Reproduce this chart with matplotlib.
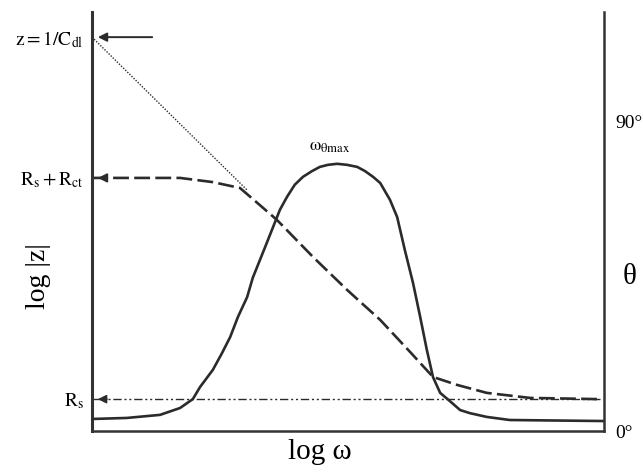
import matplotlib
matplotlib.use("Agg")
import matplotlib.pyplot as plt

plt.rcParams['font.family'] = ['Liberation Serif', 'DejaVu Serif']
plt.rcParams['mathtext.fontset'] = 'stix'

# impedance magnitude (dashed) - log w vs log|z|, arbitrary units 0..100
log_w_mag = [0, 11.3, 17.2, 23.6, 28.9, 32.8, 36.1, 43.2, 49.8, 56.3, 62.1, 66.6, 71.3, 77.1, 85.5, 99.2]
log_z_mag = [60.4, 60.4, 60.4, 59.4, 58.0, 53.9, 50.4, 41.5, 33.7, 26.5, 18.9, 12.9, 11.0, 9.1, 7.9, 7.6]

# phase angle (solid) - degrees on right axis
log_w_phase = [0, 6.8, 13.3, 17.2, 19.7, 21.1, 23.6, 25.4, 27.0, 28.5, 30.3, 31.4, 32.8, 34.2,
               36.7, 38.1, 39.6, 41.2, 43.0, 44.5, 46.1, 47.9, 49.8, 51.8, 53.3, 54.9, 56.3,
               58.2, 59.6, 61.1, 62.7, 64.1, 65.4, 66.6, 68.0, 69.9, 71.9, 73.8, 77.1, 81.6, 100]
theta_deg = [3.5, 3.8, 4.7, 6.7, 9.3, 12.8, 17.8, 22.7, 27.4, 33.2, 39.0, 44.6, 49.8, 55.0,
             64.4, 68.2, 71.7, 74.0, 75.7, 76.9, 77.5, 77.8, 77.5, 76.9, 75.7, 74.0, 72.2,
             67.3, 62.3, 52.7, 43.1, 33.2, 23.6, 15.7, 11.1, 8.7, 6.1, 5.2, 4.1, 3.2, 2.9]

# capacitive asymptote (dotted)
asym_w = [0, 30.3]
asym_z = [94.0, 57.5]

# levels on the log|z| axis
level_vals = [7.6, 60.4, 94.0]
level_labels = [r'$\mathrm{R_s}$', r'$\mathrm{R_s + R_{ct}}$', r'$\mathrm{z = 1/C_{dl}}$']
rs = 7.6
peak_w = 47.9

ink = '#2b2b2b'

fig = plt.figure(figsize=(6.43, 4.70), dpi=100)
ax = fig.add_axes([92/643, 39/470, 512/643, 419/470])
ax2 = ax.twinx()

ax.set_xlim(0, 100)
ax.set_ylim(0, 100)
ax2.set_ylim(0, 122)

for s in ['top', 'right']:
    ax.spines[s].set_visible(False)
for s in ['top', 'left', 'bottom']:
    ax2.spines[s].set_visible(False)
ax.spines['left'].set_linewidth(2.2)
ax.spines['bottom'].set_linewidth(1.8)
ax2.spines['right'].set_linewidth(1.8)
for sp in [ax.spines['left'], ax.spines['bottom'], ax2.spines['right']]:
    sp.set_color('#333333')

ax.plot(asym_w, asym_z, color=ink, lw=1.0, linestyle=(0, (1, 1.1)))
ax.plot(log_w_mag, log_z_mag, color=ink, lw=1.9, dashes=(6, 2))
ax.plot([0, 99.2], [rs, rs], color=ink, lw=1.0, dashes=(6, 2, 1.5, 2, 1.5, 2))
ax2.plot(log_w_phase, theta_deg, color=ink, lw=1.9, solid_joinstyle='round')

# arrows pointing to the axis
arr = dict(arrowstyle='-|>', color=ink, lw=1.4, mutation_scale=13)
ax.annotate('', xy=(0.6, level_vals[2]), xytext=(12.3, level_vals[2]), arrowprops=arr)
ax.annotate('', xy=(0.6, level_vals[1]), xytext=(3.5, level_vals[1]), arrowprops=arr)
ax.annotate('', xy=(0.6, level_vals[0]), xytext=(3.5, level_vals[0]), arrowprops=dict(arr, lw=1.0))

ax.set_xticks([])
ax.set_yticks(level_vals)
ax.set_yticklabels(level_labels, fontsize=14)
ax.tick_params(axis='y', length=0, pad=6)

ax2.set_yticks([0, 90])
ax2.set_yticklabels(['0°', '90°'], fontsize=14)
ax2.tick_params(axis='y', length=0, pad=8)

ax.set_ylabel('log |z|', fontsize=20)
ax.yaxis.set_label_coords(-0.08, 0.37)

ax2.text(peak_w - 1.5, 80.5, r'$\mathrm{\omega_{\theta max}}$', fontsize=13,
         ha='center', va='bottom')

fig.text(320/643, 1 - 452/470, 'log ω', fontsize=21, ha='center', va='center')
fig.text(630/643, 1 - 277/470, 'θ', fontsize=21, ha='center', va='center')

fig.savefig('out.png', dpi=100)
